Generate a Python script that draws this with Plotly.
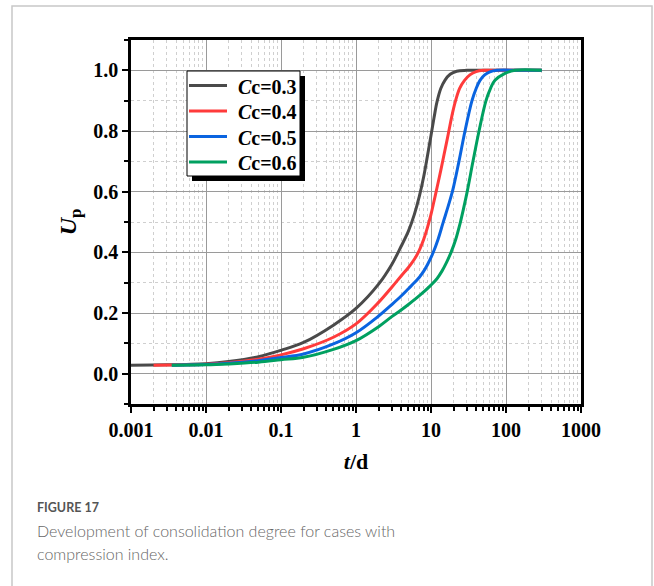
import plotly.graph_objects as go

# ---------------- data ----------------
t_03 = [0.001, 0.003, 0.01, 0.02, 0.05, 0.1, 0.2, 0.5, 1, 2, 3, 4, 5, 6, 7, 8, 9, 10, 11, 12, 13.5, 15.4, 18, 22, 30, 100, 300]
u_03 = [0.028, 0.029, 0.033, 0.040, 0.056, 0.077, 0.103, 0.160, 0.215, 0.295, 0.36, 0.42, 0.47, 0.525, 0.585, 0.65, 0.72, 0.785, 0.845, 0.895, 0.94, 0.968, 0.987, 0.997, 1.0, 1.0, 1.0]

t_04 = [0.002, 0.005, 0.01, 0.02, 0.05, 0.1, 0.2, 0.5, 1, 2, 3, 4, 5, 6, 7, 8, 9, 10, 11, 12, 13.5, 15, 17, 19, 21, 24, 28, 33, 40, 50, 100, 300]
u_04 = [0.028, 0.029, 0.031, 0.036, 0.048, 0.062, 0.082, 0.120, 0.164, 0.235, 0.285, 0.322, 0.35, 0.377, 0.407, 0.443, 0.483, 0.525, 0.57, 0.612, 0.67, 0.725, 0.79, 0.85, 0.895, 0.94, 0.967, 0.985, 0.996, 1.0, 1.0, 1.0]

t_05 = [0.0035, 0.01, 0.02, 0.05, 0.1, 0.2, 0.5, 1, 2, 3, 4, 5, 6.12, 7, 8, 9, 10.6, 12.5, 14.5, 17, 19.5, 23.6, 28.4, 35.2, 40, 45, 52, 61, 76, 150, 300]
u_05 = [0.028, 0.030, 0.034, 0.043, 0.053, 0.065, 0.098, 0.135, 0.19, 0.228, 0.256, 0.28, 0.302, 0.318, 0.338, 0.36, 0.397, 0.445, 0.498, 0.553, 0.605, 0.70, 0.80, 0.90, 0.94, 0.967, 0.985, 0.995, 1.0, 1.0, 1.0]

t_06 = [0.0035, 0.01, 0.02, 0.05, 0.1, 0.2, 0.5, 1, 2, 3, 4, 5, 7, 10, 12, 14, 16, 18.5, 21.5, 24.4, 27.2, 30.2, 36.3, 43.7, 54.1, 62, 71.3, 97, 132, 300]
u_06 = [0.028, 0.029, 0.032, 0.038, 0.046, 0.054, 0.080, 0.109, 0.155, 0.188, 0.21, 0.228, 0.257, 0.292, 0.313, 0.338, 0.365, 0.40, 0.445, 0.495, 0.545, 0.597, 0.70, 0.80, 0.90, 0.94, 0.967, 0.99, 1.0, 1.0]

names = ["<i>C</i>c=0.3", "<i>C</i>c=0.4", "<i>C</i>c=0.5", "<i>C</i>c=0.6"]
colors = ["#4a4a4a", "#ff3b3b", "#0a64e0", "#00a060"]
times = [t_03, t_04, t_05, t_06]
values = [u_03, u_04, u_05, u_06]

x_tickvals = [0.001, 0.01, 0.1, 1, 10, 100, 1000]
x_ticktext = ["0.001", "0.01", "0.1", "1", "10", "100", "1000"]
y_tickvals = [0.0, 0.2, 0.4, 0.6, 0.8, 1.0]
y_ticktext = ["0.0", "0.2", "0.4", "0.6", "0.8", "1.0"]

x_minor = [m * 10.0 ** e for e in range(-3, 3) for m in range(2, 10)]

# ---------------- layout geometry ----------------
W, H = 654, 586
L, R, T, B = 131, 73, 40, 182
PW, PH = W - L - R, H - T - B


def px(x):
    return (x - L) / PW


def py(y):
    return (H - B - y) / PH


fig = go.Figure()
for name, t, u, c in zip(names, times, values, colors):
    fig.add_trace(go.Scatter(x=t, y=u, mode="lines", name=name, showlegend=False,
                             line=dict(color=c, width=3, shape="spline", smoothing=1.0)))

serif = "Liberation Serif, Times New Roman, serif"

fig.update_xaxes(
    type="log", range=[-3, 3],
    tickmode="array", tickvals=x_tickvals, ticktext=x_ticktext,
    ticks="outside", ticklen=6, tickwidth=2, tickcolor="black",
    showline=True, linecolor="black", linewidth=2.5, mirror=True,
    showgrid=True, gridcolor="#9a9a9a", gridwidth=1,
    zeroline=False,
    tickfont=dict(family=serif, size=20, color="black", weight="bold"),
    minor=dict(tickmode="array", tickvals=x_minor, ticks="outside", ticklen=4,
               tickwidth=1.5, tickcolor="black", showgrid=True,
               gridcolor="#cfcfcf", griddash="dot", gridwidth=1),
    title=dict(text="<i>t</i>/d", font=dict(family=serif, size=22, color="black", weight="bold"),
               standoff=14),
)
fig.update_yaxes(
    range=[-0.1, 1.1],
    tickmode="array", tickvals=y_tickvals, ticktext=y_ticktext,
    ticks="outside", ticklen=6, tickwidth=2, tickcolor="black",
    showline=True, linecolor="black", linewidth=2.5, mirror=True,
    showgrid=True, gridcolor="#9a9a9a", gridwidth=1,
    zeroline=False,
    tickfont=dict(family=serif, size=20, color="black", weight="bold"),
    minor=dict(dtick=0.1, tick0=0.1, ticks="outside", ticklen=4, tickwidth=1.5,
               tickcolor="black", showgrid=True, gridcolor="#cfcfcf",
               griddash="dot", gridwidth=1),
    title=dict(text="<i>U</i><sub>p</sub>", font=dict(family=serif, size=24, color="black", weight="bold"),
               standoff=10),
)

shapes = [
    # card border
    dict(type="rect", xref="paper", yref="paper", x0=px(12), x1=px(652), y0=py(620), y1=py(6),
         line=dict(color="#c8c8c8", width=1.5), fillcolor="rgba(0,0,0,0)", layer="below"),
    # legend shadow
    dict(type="rect", xref="paper", yref="paper", x0=px(192), x1=px(305), y0=py(181), y1=py(76),
         line=dict(width=0), fillcolor="black", layer="above"),
    # legend box
    dict(type="rect", xref="paper", yref="paper", x0=px(187), x1=px(300), y0=py(176), y1=py(71),
         line=dict(color="black", width=1), fillcolor="white", layer="above"),
]

annotations = []
row_y = [85.5, 111, 136.5, 162]
for name, c, ry in zip(names, colors, row_y):
    shapes.append(dict(type="line", xref="paper", yref="paper", x0=px(189), x1=px(227),
                       y0=py(ry), y1=py(ry), line=dict(color=c, width=3), layer="above"))
    annotations.append(dict(text=name, xref="paper", yref="paper", x=px(236), y=py(ry + 1),
                            xanchor="left", yanchor="middle", showarrow=False,
                            font=dict(family=serif, size=20, color="black", weight="bold")))

annotations += [
    dict(text="FIGURE 17", xref="paper", yref="paper", x=px(35), y=py(508), xanchor="left", yanchor="middle",
         showarrow=False, font=dict(family="Lato, sans-serif", size=12.5, color="#555555", weight="bold")),
    dict(text="Development of consolidation degree for cases with", xref="paper", yref="paper",
         x=px(35), y=py(530), xanchor="left", yanchor="middle", showarrow=False,
         font=dict(family="Lato, sans-serif", size=16, color="#666666", weight=300)),
    dict(text="compression index.", xref="paper", yref="paper",
         x=px(35), y=py(553), xanchor="left", yanchor="middle", showarrow=False,
         font=dict(family="Lato, sans-serif", size=16, color="#666666", weight=300)),
]

fig.update_layout(
    width=W, height=H, autosize=False,
    margin=dict(l=L, r=R, t=T, b=B),
    paper_bgcolor="white", plot_bgcolor="white",
    showlegend=False,
    shapes=shapes, annotations=annotations,
)

fig.write_html("out.html")
